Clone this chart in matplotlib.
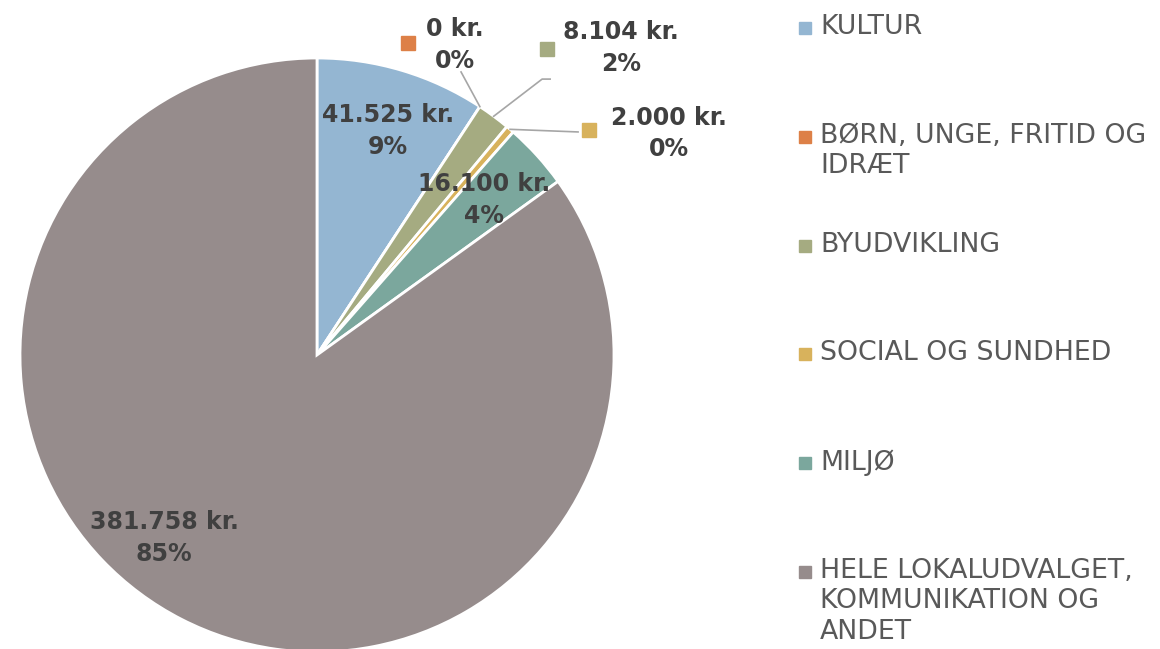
import numpy as np
import matplotlib.pyplot as plt

# data
kategorier = ["KULTUR", "BØRN, UNGE, FRITID OG\nIDRÆT", "BYUDVIKLING",
              "SOCIAL OG SUNDHED", "MILJØ",
              "HELE LOKALUDVALGET,\nKOMMUNIKATION OG\nANDET"]
beloeb = [41525, 0, 8104, 2000, 16100, 381758]
beloeb_tekst = ["41.525 kr.", "0 kr.", "8.104 kr.", "2.000 kr.", "16.100 kr.", "381.758 kr."]
procent_tekst = ["9%", "0%", "2%", "0%", "4%", "85%"]
farver = ["#94B6D2", "#DD8047", "#A5AB81", "#D8B25C", "#7BA79D", "#968C8C"]

# label layout (pie radius units)
label_pos = [(0.240, 0.754), (0.465, 1.044), (1.024, 1.034),
             (1.185, 0.747), (0.562, 0.522), (-0.515, -0.616)]
udenfor = {1: (0.306, 1.051), 2: (0.774, 1.030), 3: (0.916, 0.758)}  # marker pos
leder = {1: [(0.485, 0.953)], 2: [(0.758, 0.929), (0.785, 0.929)], 3: [(0.879, 0.751)]}

W, H = 1160, 649
fig = plt.figure(figsize=(W / 100, H / 100), dpi=100)
cx, cy, r = 317, 355, 297
ax = fig.add_axes([(cx - r) / W, (H - cy - r) / H, 2 * r / W, 2 * r / H])

wedges, _ = ax.pie(beloeb, colors=farver, startangle=90, counterclock=False,
                   wedgeprops=dict(edgecolor="white", linewidth=2))
ax.set_xlim(-1, 1)
ax.set_ylim(-1, 1)
ax.set_aspect("auto")
ax.axis("off")

for i, w in enumerate(wedges):
    tx, ty = label_pos[i]
    ax.text(tx, ty, beloeb_tekst[i] + "\n" + procent_tekst[i], ha="center", va="center",
            fontsize=17, fontweight="bold", color="#404040", linespacing=1.38,
            clip_on=False)
    if i in udenfor:
        mx, my = udenfor[i]
        ax.plot(mx, my, marker="s", markersize=9.5, color=farver[i], clip_on=False)
        vinkel = np.deg2rad((w.theta1 + w.theta2) / 2)
        pts = [(np.cos(vinkel), np.sin(vinkel))] + leder[i]
        xs, ys = zip(*pts)
        ax.plot(xs, ys, color="#A6A6A6", linewidth=1.2, clip_on=False)

# legend
for i, navn in enumerate(kategorier):
    y = 28 + i * 108.8
    fig.patches.append(plt.Rectangle((799 / W, 1 - (y + 6) / H), 12 / W, 12 / H,
                                     transform=fig.transFigure, color=farver[i]))
    fig.text(820 / W, 1 - (y - 14) / H, navn, ha="left", va="top", fontsize=19.3,
             color="#595959", linespacing=1.22)

fig.savefig("out.png", dpi=100)
